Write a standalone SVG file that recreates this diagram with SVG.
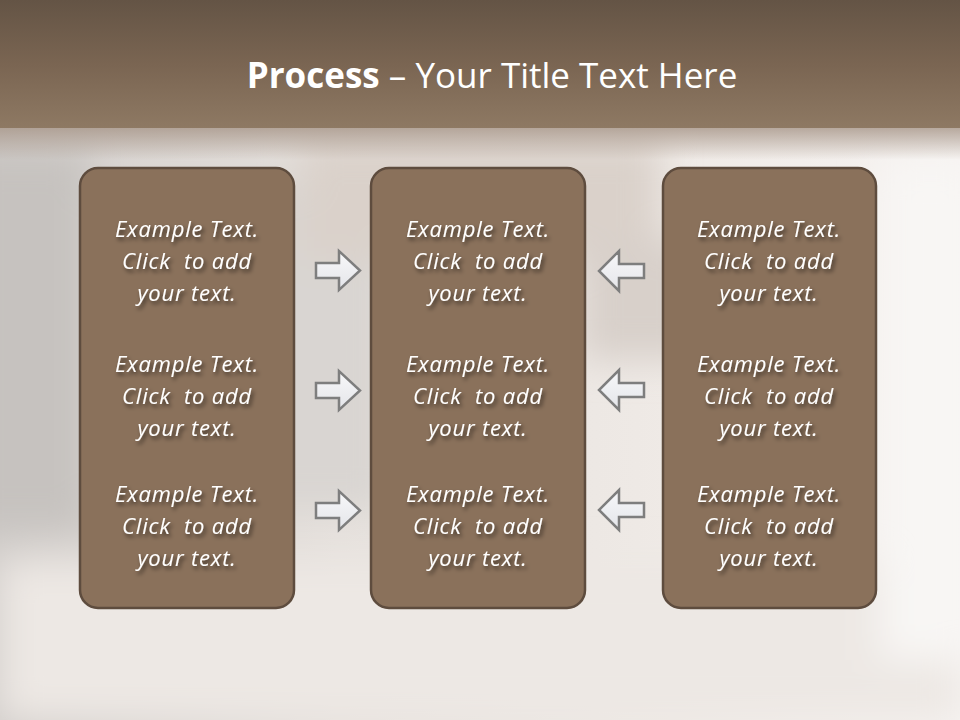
<svg xmlns="http://www.w3.org/2000/svg" width="960" height="720" viewBox="0 0 960 720">
<defs>
<linearGradient id="band" x1="0" y1="0" x2="0" y2="1">
<stop offset="0" stop-color="#645445"/>
<stop offset="0.5" stop-color="#7A6552"/>
<stop offset="1" stop-color="#8E7963"/>
</linearGradient>
<linearGradient id="fade" x1="0" y1="0" x2="0" y2="1">
<stop offset="0" stop-color="#A8978A"/>
<stop offset="1" stop-color="#A8978A" stop-opacity="0"/>
</linearGradient>
<linearGradient id="bg" x1="0" y1="0" x2="1" y2="0">
<stop offset="0" stop-color="#D2CECB"/>
<stop offset="0.35" stop-color="#E6E1DD"/>
<stop offset="0.7" stop-color="#EFEAE6"/>
<stop offset="1" stop-color="#F6F3F1"/>
</linearGradient>
<linearGradient id="arrowFill" x1="0" y1="0" x2="0" y2="1">
<stop offset="0" stop-color="#F8F8FA"/>
<stop offset="1" stop-color="#E4E5E9"/>
</linearGradient>
<filter id="blur" x="-20%" y="-20%" width="140%" height="140%"><feGaussianBlur stdDeviation="18"/></filter>
<filter id="tshadow" x="-10%" y="-20%" width="130%" height="160%">
<feGaussianBlur in="SourceAlpha" stdDeviation="2"/>
<feOffset dx="2" dy="3" result="b"/>
<feFlood flood-color="#000" flood-opacity="0.6"/>
<feComposite in2="b" operator="in" result="s"/>
<feMerge><feMergeNode in="s"/><feMergeNode in="SourceGraphic"/></feMerge>
</filter>
<style>
.box{fill:#8A715B;stroke:#5E4C3E;stroke-width:2.5}
.t{font-family:"Open Sans","Liberation Sans",sans-serif;font-style:italic;font-size:22px;letter-spacing:0.8px;fill:#FFFFFF;text-anchor:middle;white-space:pre}
.arr{fill:url(#arrowFill);stroke:#7E7E7E;stroke-width:2.5;stroke-linejoin:miter}
.title{font-family:"Open Sans","Liberation Sans",sans-serif;font-size:35px;fill:#FFFFFF;text-anchor:middle}
</style>
</defs>
<rect width="960" height="720" fill="url(#bg)"/>
<g filter="url(#blur)">
<rect x="-40" y="150" width="130" height="380" fill="#C6C2BF"/>
<rect x="90" y="180" width="300" height="330" fill="#D9D5D2"/>
<rect x="300" y="140" width="360" height="120" fill="#DAD1CA"/>
<rect x="580" y="240" width="120" height="120" fill="#D8D0CA"/>
<rect x="0" y="560" width="960" height="160" fill="#EDE8E4"/>
<rect x="880" y="160" width="100" height="500" fill="#F8F6F4"/>
</g>
<rect x="0" y="120" width="960" height="40" fill="url(#fade)"/>
<rect x="0" y="0" width="960" height="128" fill="url(#band)"/>
<text class="title" x="492" y="88"><tspan font-weight="bold">Process</tspan> – Your Title Text Here</text>
<g id="col-left">
<rect class="box" x="80" y="168" width="214" height="440" rx="18"/>
<g filter="url(#tshadow)">
<text class="t" x="187" y="237">Example Text.</text>
<text class="t" x="187" y="269">Click  to add</text>
<text class="t" x="187" y="301">your text.</text>
<text class="t" x="187" y="372">Example Text.</text>
<text class="t" x="187" y="404">Click  to add</text>
<text class="t" x="187" y="436">your text.</text>
<text class="t" x="187" y="502">Example Text.</text>
<text class="t" x="187" y="534">Click  to add</text>
<text class="t" x="187" y="566">your text.</text>
</g>
</g>
<g id="col-mid">
<rect class="box" x="371" y="168" width="214" height="440" rx="18"/>
<g filter="url(#tshadow)">
<text class="t" x="478" y="237">Example Text.</text>
<text class="t" x="478" y="269">Click  to add</text>
<text class="t" x="478" y="301">your text.</text>
<text class="t" x="478" y="372">Example Text.</text>
<text class="t" x="478" y="404">Click  to add</text>
<text class="t" x="478" y="436">your text.</text>
<text class="t" x="478" y="502">Example Text.</text>
<text class="t" x="478" y="534">Click  to add</text>
<text class="t" x="478" y="566">your text.</text>
</g>
</g>
<g id="col-right">
<rect class="box" x="663" y="168" width="213" height="440" rx="18"/>
<g filter="url(#tshadow)">
<text class="t" x="769" y="237">Example Text.</text>
<text class="t" x="769" y="269">Click  to add</text>
<text class="t" x="769" y="301">your text.</text>
<text class="t" x="769" y="372">Example Text.</text>
<text class="t" x="769" y="404">Click  to add</text>
<text class="t" x="769" y="436">your text.</text>
<text class="t" x="769" y="502">Example Text.</text>
<text class="t" x="769" y="534">Click  to add</text>
<text class="t" x="769" y="566">your text.</text>
</g>
</g>
<g id="connectors">
<path id="ar1" class="arr" d="M316,263 H339 V251 L360,270.5 L339,290 V278 H316 Z"/>
<path id="ar2" class="arr" d="M316,383 H339 V371 L360,390.5 L339,410 V398 H316 Z"/>
<path id="ar3" class="arr" d="M316,503 H339 V491 L360,510.5 L339,530 V518 H316 Z"/>
<path id="al1" class="arr" d="M644,264 H619 V251 L599,271 L619,291 V278 H644 Z"/>
<path id="al2" class="arr" d="M644,383 H619 V370 L599,390 L619,410 V397 H644 Z"/>
<path id="al3" class="arr" d="M644,503 H619 V490 L599,510 L619,530 V517 H644 Z"/>
</g>
</svg>
